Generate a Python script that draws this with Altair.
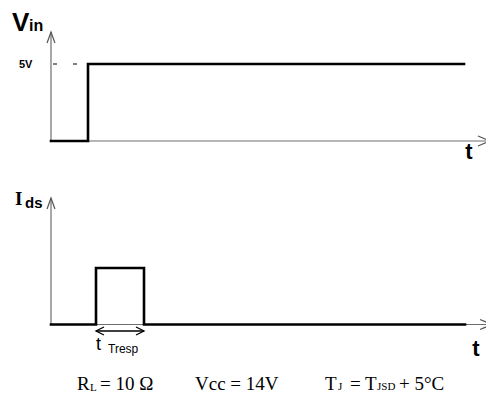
import altair as alt
import pandas as pd

# ---- waveform data (time in diagram units, levels) ----
vin_t = [0, 37, 37, 413]
vin_v = [0, 0, 5, 5]          # volts
ids_t = [0, 45, 45, 93, 93, 414]
ids_v = [0, 0, 1, 1, 0, 0]    # normalised current
tresp_start, tresp_end = 45, 93
vin_high = 5

# ---- layout (page pixels for vertical placement) ----
W, H = 478, 386
VIN_BASE, VIN_SCALE = 141, 15.4
IDS_BASE, IDS_SCALE = 324.5, 56.5
VIN_TOP, IDS_TOP = 32, 198
T_END = 439

xs = alt.Scale(domain=[-43, 435], nice=False, zero=False)
ys = alt.Scale(domain=[394, 8], nice=False, zero=False)

def X(f="x"):
    return alt.X(f, type="quantitative", scale=xs, axis=None)

def Y(f="y"):
    return alt.Y(f, type="quantitative", scale=ys, axis=None)

# axes lines
axes = pd.DataFrame([
    dict(x=0, x2=T_END, y=VIN_BASE, y2=VIN_BASE),
    dict(x=0, x2=0, y=VIN_BASE, y2=VIN_TOP),
    dict(x=0, x2=T_END + 2, y=IDS_BASE, y2=IDS_BASE),
    dict(x=0, x2=0, y=IDS_BASE, y2=IDS_TOP),
])
axes_layer = alt.Chart(axes).mark_rule(color="#6e6e6e", strokeWidth=1.2).encode(
    x=X(), x2="x2", y=Y(), y2="y2")

# arrowheads
up_shape = "M-0.36,1L0,0L0.36,1"
right_shape = "M-1,-0.42L0,0L-1,0.42"
left_small = "M1,-0.5L0,0L1,0.5"
right_small = "M-1,-0.5L0,0L-1,0.5"

def head(x, y, shape, size, color="#555555", sw=1.2):
    return alt.Chart(pd.DataFrame({"x": [x], "y": [y]})).mark_point(
        shape=shape, size=size, filled=False, color=color, strokeWidth=sw, opacity=1
    ).encode(x=X(), y=Y())

heads = [
    head(0, VIN_TOP, up_shape, 484),
    head(0, IDS_TOP, up_shape, 484),
    head(T_END, VIN_BASE, right_shape, 576),
    head(T_END + 2, IDS_BASE, right_shape, 576),
    head(tresp_start, 331, left_small, 256, "black", 1.3),
    head(tresp_end, 331, right_small, 256, "black", 1.3),
]

# signals
sig = pd.DataFrame(
    [dict(s="vin", o=i, x=t, y=VIN_BASE - v * VIN_SCALE) for i, (t, v) in enumerate(zip(vin_t, vin_v))]
    + [dict(s="ids", o=i, x=t, y=IDS_BASE - v * IDS_SCALE) for i, (t, v) in enumerate(zip(ids_t, ids_v))]
)
sig_layer = alt.Chart(sig).mark_line(color="black", strokeWidth=2.6, strokeJoin="miter", strokeCap="square").encode(
    x=X(), y=Y(), detail="s:N", order="o:Q")

# dashed level line at 5V
dash = alt.Chart(pd.DataFrame({"x": [2], "x2": [37], "y": [VIN_BASE - vin_high * VIN_SCALE]})).mark_rule(
    color="black", strokeWidth=1, strokeDash=[4, 16]).encode(x=X(), x2="x2", y=Y())

# tresp double arrow
tr = alt.Chart(pd.DataFrame({"x": [tresp_start], "x2": [tresp_end], "y": [331]})).mark_rule(
    color="black", strokeWidth=1.3).encode(x=X(), x2="x2", y=Y())

def label(text, x, y, size, font="Arial", weight="normal", align="left", baseline="alphabetic"):
    return alt.Chart(pd.DataFrame({"x": [x], "y": [y], "t": [text]})).mark_text(
        font=font, fontSize=size, fontWeight=weight, align=align, baseline=baseline, color="black"
    ).encode(x=X(), y=Y(), text="t:N")

SANS = "Liberation Sans"
SERIF = "Liberation Serif"
texts = [
    label("V", -39, 31, 26, SANS, "bold"),
    label("in", -22, 31, 16, SANS, "bold"),
    label("5V", -32, 68, 11, SANS, "bold"),
    label("t", 418, 159, 22, SANS, "bold", "center"),
    label("I", -36, 205, 19, SERIF, "bold"),
    label("ds", -26, 208, 15, SANS, "bold"),
    label("t", 425, 356, 22, SANS, "bold", "center"),
    label("t", 45, 350, 18, SANS),
    label("Tresp", 57, 353, 12, SANS),
    label("R", 26, 390, 19, SERIF),
    label("L", 39, 391, 11, SERIF),
    label("= 10 \u03a9", 49, 390, 19, SERIF),
    label("Vcc = 14V", 144, 390, 19, SERIF),
    label("T", 274, 390, 19, SERIF),
    label("J", 287, 390, 11, SERIF),
    label("= T", 299, 390, 19, SERIF),
    label("JSD", 326, 390, 11, SERIF),
    label("+ 5\u00b0C", 348, 390, 19, SERIF),
]

chart = alt.layer(axes_layer, *heads, sig_layer, dash, tr, *texts).properties(
    width=W, height=H, padding=0, autosize=alt.AutoSizeParams(type="none")
).configure_view(stroke=None)

chart.save("out.html", embed_options={"renderer": "svg", "actions": False})
